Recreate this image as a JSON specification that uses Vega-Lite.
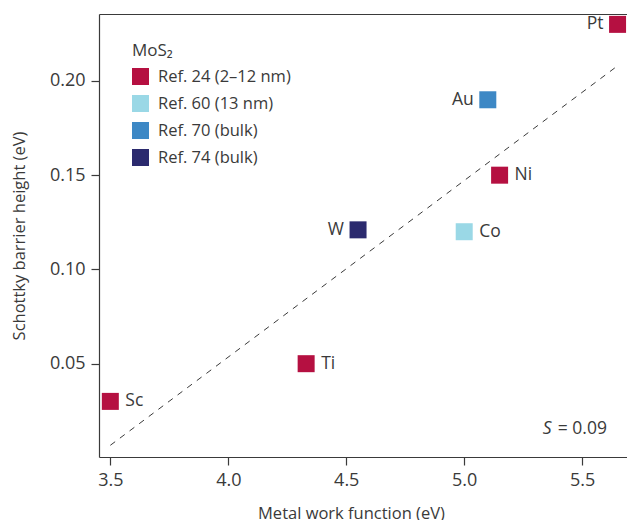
{
  "$schema": "https://vega.github.io/schema/vega-lite/v6.json",
  "width": 528,
  "height": 443,
  "autosize": "none",
  "padding": {"left": 99, "top": 14, "right": 0, "bottom": 63},
  "config": {
    "view": {"stroke": null},
    "font": "Open Sans",
    "axis": {
      "domainColor": "#3a3a3a", "tickColor": "#3a3a3a", "domainWidth": 1.2, "tickWidth": 1.2,
      "tickSize": 8, "labelFontSize": 18, "labelColor": "#3a3a3a", "titleFontSize": 16.5,
      "titleFontWeight": "normal", "titleColor": "#3a3a3a", "grid": false, "labelPadding": 6
    },
    "legend": {
      "titleFontSize": 17, "titleFontWeight": "normal", "titleColor": "#3a3a3a",
      "labelFontSize": 16.5, "labelColor": "#3a3a3a", "symbolType": "square", "symbolSize": 289,
      "symbolStrokeWidth": 0, "rowPadding": 10, "labelOffset": 9, "titlePadding": 8
    }
  },
  "datasets": {
    "pts": [
      {"metal": "Sc", "wf": 3.5, "sbh": 0.03, "ref": "Ref. 24 (2–12 nm)"},
      {"metal": "Ti", "wf": 4.33, "sbh": 0.05, "ref": "Ref. 24 (2–12 nm)"},
      {"metal": "W", "wf": 4.55, "sbh": 0.121, "ref": "Ref. 74 (bulk)"},
      {"metal": "Co", "wf": 5.0, "sbh": 0.12, "ref": "Ref. 60 (13 nm)"},
      {"metal": "Ni", "wf": 5.15, "sbh": 0.15, "ref": "Ref. 24 (2–12 nm)"},
      {"metal": "Au", "wf": 5.1, "sbh": 0.19, "ref": "Ref. 70 (bulk)"},
      {"metal": "Pt", "wf": 5.65, "sbh": 0.23, "ref": "Ref. 24 (2–12 nm)"}
    ],
    "fit": [
      {"wf": 3.5, "sbh": 0.0067},
      {"wf": 5.65, "sbh": 0.208}
    ],
    "ann": [
      {"label": "S", "wf": 5.37, "sbh": 0.0152},
      {"label": "= 0.09", "wf": 5.605, "sbh": 0.0152}
    ]
  },
  "resolve": {"axis": {"x": "independent"}},
  "layer": [
    {
      "data": {"name": "fit"},
      "mark": {"type": "line", "color": "#3a3a3a", "strokeWidth": 1, "strokeDash": [6, 6]},
      "encoding": {
        "x": {"field": "wf", "type": "quantitative", "scale": {"domain": [3.452, 5.69], "nice": false},
          "axis": {"orient": "top", "labels": false, "ticks": false, "title": null, "domainWidth": 1}},
        "y": {"field": "sbh", "type": "quantitative", "scale": {"domain": [0.0005, 0.2355], "nice": false},
          "axis": {"title": "Schottky barrier height (eV)", "values": [0.05, 0.1, 0.15, 0.2], "format": ".2f", "titlePadding": 22}}
      }
    },
    {
      "data": {"name": "pts"},
      "mark": {"type": "point", "shape": "square", "filled": true, "opacity": 1, "size": 289},
      "encoding": {
        "x": {"field": "wf", "type": "quantitative",
          "axis": {"title": "Metal work function (eV)", "values": [3.5, 4.0, 4.5, 5.0, 5.5], "format": ".1f", "titleX": 252, "titlePadding": 16}},
        "y": {"field": "sbh", "type": "quantitative"},
        "color": {"field": "ref", "type": "nominal",
          "scale": {"domain": ["Ref. 24 (2–12 nm)", "Ref. 60 (13 nm)", "Ref. 70 (bulk)", "Ref. 74 (bulk)"],
            "range": ["#B51041", "#9AD8E6", "#3D88C5", "#2B2A6E"]},
          "legend": {"title": "MoS₂", "orient": "none", "legendX": 33, "legendY": 29}}
      }
    },
    {
      "data": {"name": "pts"},
      "transform": [{"filter": {"field": "metal", "oneOf": ["Sc", "Ti", "Ni", "Co"]}}],
      "mark": {"type": "text", "align": "left", "baseline": "middle", "dx": 15, "fontSize": 17.5, "color": "#3a3a3a"},
      "encoding": {
        "x": {"field": "wf", "type": "quantitative", "axis": null},
        "y": {"field": "sbh", "type": "quantitative"},
        "text": {"field": "metal"}
      }
    },
    {
      "data": {"name": "pts"},
      "transform": [{"filter": {"field": "metal", "oneOf": ["Pt", "Au", "W"]}}],
      "mark": {"type": "text", "align": "right", "baseline": "middle", "dx": -14, "fontSize": 17.5, "color": "#3a3a3a"},
      "encoding": {
        "x": {"field": "wf", "type": "quantitative", "axis": null},
        "y": {"field": "sbh", "type": "quantitative"},
        "text": {"field": "metal"}
      }
    },
    {
      "data": {"name": "ann"},
      "transform": [{"filter": {"field": "label", "equal": "S"}}],
      "mark": {"type": "text", "align": "right", "baseline": "middle", "fontSize": 17.5, "fontStyle": "italic", "color": "#3a3a3a"},
      "encoding": {
        "x": {"field": "wf", "type": "quantitative", "axis": null},
        "y": {"field": "sbh", "type": "quantitative"},
        "text": {"field": "label"}
      }
    },
    {
      "data": {"name": "ann"},
      "transform": [{"filter": {"field": "label", "equal": "= 0.09"}}],
      "mark": {"type": "text", "align": "right", "baseline": "middle", "fontSize": 17.5, "color": "#3a3a3a"},
      "encoding": {
        "x": {"field": "wf", "type": "quantitative", "axis": null},
        "y": {"field": "sbh", "type": "quantitative"},
        "text": {"field": "label"}
      }
    }
  ]
}
